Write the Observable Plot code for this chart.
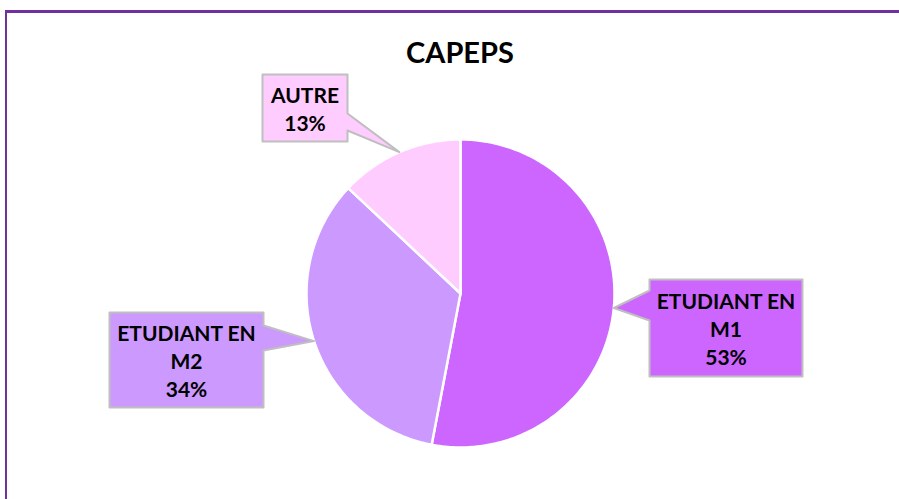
<!DOCTYPE html>
<html>
<head>
<meta charset="utf-8">
<script src="https://cdn.jsdelivr.net/npm/d3@7"></script>
<script src="https://cdn.jsdelivr.net/npm/@observablehq/plot@0.6"></script>
<style>
  html, body { margin: 0; padding: 0; background: #fff; }
  #wrap { position: relative; width: 899px; height: 499px; overflow: hidden; font-family: Lato, "Open Sans", sans-serif; }
  #frame { position: absolute; left: 5px; top: 10px; width: 1000px; height: 600px;
           border-top: 3px solid #7030A0; border-left: 2px solid #7030A0; box-sizing: border-box; }
  #title { position: absolute; left: 0; width: 920px; top: 37px; text-align: center;
           font: bold 29px Lato, "Open Sans", sans-serif; line-height: 29px; color: #000; }
  #chart { position: absolute; left: 0; top: 0; }
</style>
</head>
<body>
<div id="wrap">
  <div id="frame"></div>
  <div id="chart"></div>
  <div id="title">CAPEPS</div>
</div>
<script>
// ---- data ----
const categories = ["ETUDIANT EN M1", "ETUDIANT EN M2", "AUTRE"];
const labelLines = ["ETUDIANT EN\nM1", "ETUDIANT EN\nM2", "AUTRE"];
const shares = [53, 34, 13];
const colors = ["#CC66FF", "#CC99FF", "#FFCCFF"];

// ---- layout (pixels) ----
const W = 899, H = 499;
const CX = 460, CY = 293, R = 154;
// callout boxes: [left, top, right, bottom], pointer side and pointer base (y1,y2)
const boxes = [
  {l: 649, t: 279, r: 802, b: 376, side: "left",  p1: 290, p2: 320},
  {l: 109, t: 312, r: 263, b: 407, side: "right", p1: 325, p2: 350},
  {l: 262, t: 74,  r: 347, b: 141, side: "right", p1: 113, p2: 130}
];
const ux = px => (px - CX) / R;
const uy = py => (CY - py) / R;

// ---- pie geometry (unit circle, clockwise from 12 o'clock) ----
const pie = d3.pie().sort(null).value(d => d.value)(
  categories.map((c, i) => ({key: c, value: shares[i]}))
);
const slicePts = [];
pie.forEach(s => {
  slicePts.push({key: s.data.key, x: 0, y: 0});
  const n = Math.max(2, Math.ceil((s.endAngle - s.startAngle) / (Math.PI / 180)));
  for (let i = 0; i <= n; i++) {
    const a = s.startAngle + (s.endAngle - s.startAngle) * i / n;
    slicePts.push({key: s.data.key, x: Math.sin(a), y: Math.cos(a)});
  }
});

// ---- callouts ----
const calloutPts = [];
const labels = [];
pie.forEach((s, i) => {
  const b = boxes[i];
  const mid = (s.startAngle + s.endAngle) / 2;
  const tip = {x: Math.sin(mid) * 1.0, y: Math.cos(mid) * 1.0};
  const k = s.data.key;
  let pts;
  if (b.side === "right") {
    pts = [[b.l, b.t], [b.r, b.t], [b.r, b.p1], null, [b.r, b.p2], [b.r, b.b], [b.l, b.b]];
  } else {
    pts = [[b.l, b.t], [b.r, b.t], [b.r, b.b], [b.l, b.b], [b.l, b.p2], null, [b.l, b.p1]];
  }
  pts.forEach(p => calloutPts.push(p ? {key: k, x: ux(p[0]), y: uy(p[1])} : {key: k, x: tip.x, y: tip.y}));
  labels.push({key: k, text: labelLines[i] + "\n" + shares[i] + "%", x: ux((b.l + b.r) / 2), y: uy((b.t + b.b) / 2)});
});

const chart = Plot.plot({
  width: W, height: H,
  margin: 0,
  style: {background: "transparent", overflow: "visible"},
  x: {domain: [ux(0), ux(W)], axis: null},
  y: {domain: [uy(H), uy(0)], axis: null},
  color: {domain: categories, range: colors},
  marks: [
    Plot.line(slicePts, {x: "x", y: "y", z: "key", fill: "key", stroke: "white", strokeWidth: 2.5, curve: "linear-closed", strokeLinejoin: "round"}),
    Plot.line(calloutPts, {x: "x", y: "y", z: "key", fill: "key", stroke: "#BFBFBF", strokeWidth: 2, curve: "linear-closed"}),
    Plot.text(labels, {x: "x", y: "y", text: "text", fontSize: 21, fontWeight: "bold", fill: "#000", lineHeight: 1.333, fontFamily: "Lato, 'Open Sans', sans-serif"})
  ]
});
document.getElementById("chart").appendChild(chart);
</script>
</body>
</html>
